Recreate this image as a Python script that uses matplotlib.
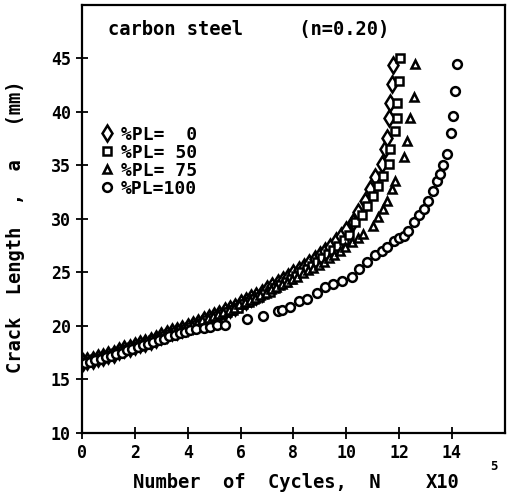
import numpy as np
import matplotlib
matplotlib.use("Agg")
import matplotlib.pyplot as plt

# crack length a (mm) vs number of cycles N (x10^5), carbon steel n=0.20

#%PL = 0 (diamonds)
n_pl0 = [0.05, 0.2, 0.4, 0.6, 0.8, 1.0, 1.2, 1.4, 1.6, 1.8, 2.0, 2.2, 2.4, 2.6, 2.8,
         3.0, 3.2, 3.4, 3.6, 3.8, 4.0, 4.2, 4.4, 4.6, 4.8, 5.0, 5.2, 5.4, 5.6, 5.8,
         6.0, 6.2, 6.4, 6.6, 6.8, 7.0, 7.2, 7.4, 7.6, 7.8, 8.0, 8.2, 8.4, 8.6, 8.8,
         9.0, 9.2, 9.4, 9.6, 9.8, 10.0, 10.26, 10.45, 10.7, 10.9, 11.1, 11.35, 11.48,
         11.54, 11.6, 11.67, 11.73, 11.77]
a_pl0 = [16.6, 16.7, 16.8, 17.0, 17.1, 17.3, 17.4, 17.6, 17.8, 17.9, 18.1, 18.3, 18.4, 18.6, 18.8,
         19.0, 19.2, 19.4, 19.5, 19.7, 19.9, 20.1, 20.3, 20.5, 20.7, 20.9, 21.1, 21.4, 21.6, 21.8,
         22.1, 22.3, 22.6, 22.8, 23.1, 23.4, 23.7, 24.0, 24.3, 24.6, 24.9, 25.2, 25.5, 25.9, 26.2,
         26.6, 27.0, 27.4, 27.9, 28.4, 29.0, 29.7, 30.6, 31.7, 32.8, 33.9, 35.1, 36.5,
         37.6, 39.4, 40.8, 42.6, 44.4]

#%PL = 50 (squares)
n_pl50 = [0.1, 0.3, 0.5, 0.7, 0.9, 1.1, 1.3, 1.5, 1.7, 1.9, 2.1, 2.3, 2.5, 2.7, 2.9,
          3.1, 3.3, 3.5, 3.7, 3.9, 4.1, 4.3, 4.5, 4.7, 4.9, 5.1, 5.3, 5.5, 5.7, 5.9,
          6.1, 6.3, 6.5, 6.7, 6.9, 7.1, 7.3, 7.5, 7.7, 7.9, 8.1, 8.3, 8.5, 8.7, 8.9,
          9.1, 9.3, 9.5, 9.7, 9.9, 10.1, 10.34, 10.6, 10.8, 11.0, 11.2, 11.4, 11.6,
          11.67, 11.86, 11.92, 11.92, 12.0, 12.05]
a_pl50 = [16.6, 16.7, 16.9, 17.0, 17.2, 17.3, 17.5, 17.6, 17.8, 18.0, 18.1, 18.3, 18.5, 18.7, 18.8,
          19.0, 19.2, 19.4, 19.6, 19.7, 19.9, 20.1, 20.3, 20.5, 20.7, 20.9, 21.1, 21.3, 21.5, 21.7,
          22.0, 22.2, 22.5, 22.7, 23.0, 23.2, 23.5, 23.8, 24.1, 24.4, 24.7, 25.0, 25.3, 25.6, 26.0,
          26.3, 26.7, 27.1, 27.5, 28.0, 28.5, 29.7, 30.4, 31.2, 32.1, 33.1, 34.0, 35.1,
          36.5, 38.2, 39.4, 40.8, 42.9, 45.0]

#%PL = 75 (triangles)
n_pl75 = [0.15, 0.35, 0.55, 0.75, 0.95, 1.15, 1.35, 1.55, 1.75, 1.95, 2.15, 2.35, 2.55, 2.75, 2.95,
          3.15, 3.35, 3.55, 3.75, 3.95, 4.15, 4.35, 4.55, 4.75, 4.95, 5.15, 5.35, 5.55, 5.75, 5.95,
          6.15, 6.35, 6.55, 6.75, 6.95, 7.15, 7.35, 7.55, 7.75, 7.95, 8.15, 8.35, 8.55, 8.75, 8.95,
          9.15, 9.35, 9.55, 9.75, 9.95, 10.2, 10.45, 10.65, 11.0, 11.2, 11.4, 11.55, 11.74,
          11.86, 12.17, 12.3, 12.4, 12.55, 12.6]
a_pl75 = [16.7, 16.8, 17.0, 17.1, 17.3, 17.4, 17.6, 17.7, 17.9, 18.1, 18.2, 18.4, 18.6, 18.8, 19.0,
          19.1, 19.3, 19.5, 19.7, 19.9, 20.1, 20.3, 20.5, 20.7, 20.9, 21.1, 21.3, 21.5, 21.7, 22.0,
          22.2, 22.4, 22.6, 22.9, 23.1, 23.4, 23.6, 23.9, 24.1, 24.4, 24.6, 24.9, 25.2, 25.4, 25.7,
          26.0, 26.3, 26.6, 27.0, 27.4, 27.8, 28.2, 28.6, 29.3, 30.2, 30.9, 31.7, 32.8,
          33.5, 35.8, 37.3, 39.4, 41.4, 44.5]

#%PL = 100 (circles)
n_pl100 = [0.1, 0.3, 0.5, 0.7, 0.9, 1.1, 1.3, 1.5, 1.7, 1.9, 2.1, 2.3, 2.5, 2.7, 2.9,
           3.1, 3.3, 3.5, 3.7, 3.9, 4.1, 4.3, 4.6, 4.85, 5.1, 5.4, 6.25, 6.86, 7.4, 7.58,
           7.88, 8.2, 8.5, 8.9, 9.2, 9.5, 9.85, 10.2, 10.5, 10.8, 11.1, 11.35, 11.55, 11.8,
           12.0, 12.17, 12.35, 12.55, 12.77, 12.95, 13.1, 13.3, 13.45, 13.56, 13.67, 13.8,
           13.97, 14.05, 14.13, 14.2]
a_pl100 = [16.5, 16.6, 16.8, 16.9, 17.1, 17.2, 17.4, 17.5, 17.7, 17.8, 18.0, 18.2, 18.3, 18.5, 18.7,
           18.8, 19.0, 19.1, 19.3, 19.4, 19.6, 19.7, 19.8, 19.9, 20.1, 20.1, 20.6, 20.9, 21.4, 21.5,
           21.8, 22.3, 22.5, 23.1, 23.6, 23.9, 24.2, 24.6, 25.3, 26.0, 26.6, 27.0, 27.4, 27.9,
           28.2, 28.4, 28.9, 29.7, 30.4, 30.9, 31.7, 32.6, 33.5, 34.2, 35.0, 36.1,
           38.0, 39.6, 42.0, 44.5]

series = [(n_pl0, a_pl0, "d", "%PL=  0"),
          (n_pl50, a_pl50, "s", "%PL= 50"),
          (n_pl75, a_pl75, "^", "%PL= 75"),
          (n_pl100, a_pl100, "o", "%PL=100")]

plt.rcParams["font.family"] = "DejaVu Sans Mono"
plt.rcParams["font.weight"] = "bold"

fig = plt.figure(figsize=(5.13, 4.94), dpi=100)
ax = fig.add_axes([0.16, 0.124, 0.824, 0.866])

for n, a, m, lab in series:
    ax.plot(n, a, linestyle="none", marker=m, mfc="white", mec="black",
            mew=1.8, ms=8 if m == "d" else 6.3, label=lab)

ax.set_xlim(0, 16)
ax.set_ylim(10, 50)
ax.set_xticks(np.arange(0, 15, 2))
ax.set_yticks(np.arange(10, 46, 5))
ax.tick_params(direction="inout", length=8, width=1.3, labelsize=12,
               top=False, right=False, pad=4)
for s in ax.spines.values():
    s.set_linewidth(1.6)

ax.set_xlabel("Number  of  Cycles,  N", fontsize=13.5, fontweight="bold",
              ha="center", va="top")
ax.xaxis.set_label_coords(0.414, -0.095)
ax.set_ylabel("Crack  Length  ,  a   (mm)", fontsize=13.5, fontweight="bold")
ax.yaxis.set_label_coords(-0.135, 0.481)

fig.text(0.83, 0.024, "X10", fontsize=13.5, fontweight="bold", ha="left", va="center")
fig.text(0.955, 0.055, "5", fontsize=9, fontweight="bold", ha="left", va="center")

ax.text(0.061, 0.942, "carbon steel     (n=0.20)", transform=ax.transAxes,
        fontsize=13.5, fontweight="bold", va="center")

ax.legend(loc="upper left", bbox_to_anchor=(0.02, 0.735), frameon=False,
          handletextpad=0.3, labelspacing=0.0, borderaxespad=0,
          handlelength=1.0, prop={"size": 13, "weight": "bold"})

fig.savefig("out.png", dpi=100)
